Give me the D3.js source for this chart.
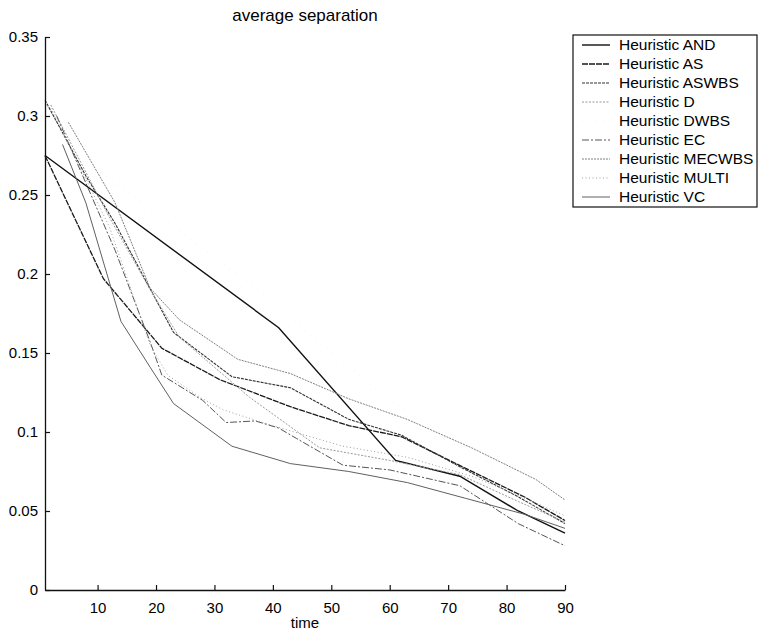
<!DOCTYPE html>
<html>
<head>
<meta charset="utf-8">
<script src="https://cdn.jsdelivr.net/npm/d3@7"></script>
<style>
  body { margin: 0; background: #fff; }
  svg { display: block; }
  text { font-family: "Liberation Sans", Arial, Helvetica, sans-serif; fill: #000; }
</style>
</head>
<body>
<svg id="chart" width="764" height="635"></svg>
<script>
// ---- data ----
const seriesNames = ["Heuristic AND", "Heuristic AS", "Heuristic ASWBS", "Heuristic D", "Heuristic DWBS",
                     "Heuristic EC", "Heuristic MECWBS", "Heuristic MULTI", "Heuristic VC"];

const timeAND    = [1, 41, 61, 72, 82, 90];
const valAND     = [0.275, 0.166, 0.082, 0.072, 0.050, 0.036];

const timeAS     = [1, 11, 21, 31, 43, 53, 62, 73, 83, 90];
const valAS      = [0.275, 0.197, 0.153, 0.133, 0.116, 0.104, 0.097, 0.077, 0.059, 0.044];

const timeASWBS  = [1, 8, 13, 23, 33, 43, 53, 62, 72, 82, 90];
const valASWBS   = [0.310, 0.262, 0.232, 0.163, 0.135, 0.128, 0.108, 0.098, 0.078, 0.059, 0.042];

const timeD      = [2, 12, 19, 24, 36, 48, 60, 72, 82, 90];
const valD       = [0.307, 0.236, 0.190, 0.160, 0.122, 0.090, 0.082, 0.073, 0.056, 0.043];

const timeDWBS   = [1, 10, 41, 45, 60, 75, 90];
const valDWBS    = [0.310, 0.266, 0.180, 0.166, 0.120, 0.085, 0.050];

const timeEC     = [3, 13, 19, 21, 28, 32, 37, 41, 44, 52, 60, 72, 82, 90];
const valEC      = [0.300, 0.215, 0.157, 0.136, 0.120, 0.106, 0.107, 0.1025, 0.096, 0.079, 0.076, 0.066, 0.042, 0.028];

const timeMECWBS = [5, 13, 19, 24, 34, 43, 53, 63, 74, 85, 90];
const valMECWBS  = [0.296, 0.245, 0.191, 0.171, 0.146, 0.137, 0.121, 0.108, 0.090, 0.070, 0.057];

const timeMULTI  = [2, 12, 19, 22, 27.5, 31.5, 40, 52, 63, 74, 80, 90];
const valMULTI   = [0.305, 0.230, 0.155, 0.136, 0.122, 0.114, 0.104, 0.091, 0.084, 0.072, 0.063, 0.047];

const timeVC     = [4, 8, 14, 19, 23, 33, 43, 53, 63, 73, 83, 90];
const valVC      = [0.282, 0.245, 0.170, 0.141, 0.118, 0.091, 0.080, 0.075, 0.068, 0.058, 0.048, 0.039];

const xTicks = [10, 20, 30, 40, 50, 60, 70, 80, 90];
const yTicks = [0, 0.05, 0.1, 0.15, 0.2, 0.25, 0.3, 0.35];
const yTickLabels = ["0", "0.05", "0.1", "0.15", "0.2", "0.25", "0.3", "0.35"];

const seriesTimes  = [timeAND, timeAS, timeASWBS, timeD, timeDWBS, timeEC, timeMECWBS, timeMULTI, timeVC];
const seriesValues = [valAND, valAS, valASWBS, valD, valDWBS, valEC, valMECWBS, valMULTI, valVC];

// ---- styles ----
const styles = [
  { color: "#111", width: 1.4, dash: null },
  { color: "#1a1a1a", width: 1.3, dash: "6,1" },
  { color: "#333", width: 1.1, dash: "3,1" },
  { color: "#999", width: 1.0, dash: "2,1.5" },
  { color: "#f3f3f3", width: 1.0, dash: "1,6" },
  { color: "#555", width: 1.0, dash: "7,2,2,2" },
  { color: "#808080", width: 1.0, dash: "2,1" },
  { color: "#a0a0a0", width: 1.0, dash: "1,2.5" },
  { color: "#606060", width: 1.0, dash: null }
];

const svg = d3.select("#chart");
const x = d3.scaleLinear().domain([1, 90]).range([45, 565]);
const y = d3.scaleLinear().domain([0, 0.35]).range([590, 37]);

// title
svg.append("text").attr("x", 305).attr("y", 21).attr("text-anchor", "middle")
  .style("font-size", "17px").text("average separation");

// lines
const line = d3.line().x(d => x(d[0])).y(d => y(d[1]));
seriesTimes.forEach((ts, i) => {
  const pts = ts.map((t, j) => [t, seriesValues[i][j]]);
  svg.append("path").datum(pts)
    .attr("d", line)
    .attr("fill", "none")
    .attr("stroke", styles[i].color)
    .attr("stroke-width", styles[i].width)
    .attr("stroke-dasharray", styles[i].dash);
});

// axes
const xAxis = d3.axisBottom(x).tickValues(xTicks).tickSizeInner(-5).tickSizeOuter(0).tickPadding(12);
const yAxis = d3.axisLeft(y).tickValues(yTicks).tickFormat((d, i) => yTickLabels[i])
  .tickSizeInner(-5).tickSizeOuter(0).tickPadding(7);

const gx = svg.append("g").attr("transform", "translate(0,590)").call(xAxis);
const gy = svg.append("g").attr("transform", "translate(45,0)").call(yAxis);
[gx, gy].forEach(g => {
  g.select(".domain").attr("stroke", "#111").attr("stroke-width", 1.3);
  g.selectAll(".tick line").attr("stroke", "#111").attr("stroke-width", 1.2);
  g.selectAll(".tick text").style("font-size", "15px").attr("fill", "#000")
    .style("font-family", "'Liberation Sans', Arial, sans-serif");
});

// x label
svg.append("text").attr("x", 305).attr("y", 628).attr("text-anchor", "middle")
  .style("font-size", "15px").text("time");

// legend
const lg = svg.append("g");
lg.append("rect").attr("x", 573).attr("y", 35).attr("width", 184).attr("height", 172)
  .attr("fill", "#fff").attr("stroke", "#111").attr("stroke-width", 1.2);
seriesNames.forEach((name, i) => {
  const cy = 45 + i * 19;
  lg.append("line").attr("x1", 582).attr("x2", 610).attr("y1", cy).attr("y2", cy)
    .attr("stroke", styles[i].color).attr("stroke-width", styles[i].width)
    .attr("stroke-dasharray", styles[i].dash);
  lg.append("text").attr("x", 619).attr("y", cy + 5).style("font-size", "15.5px").text(name);
});
</script>
</body>
</html>
